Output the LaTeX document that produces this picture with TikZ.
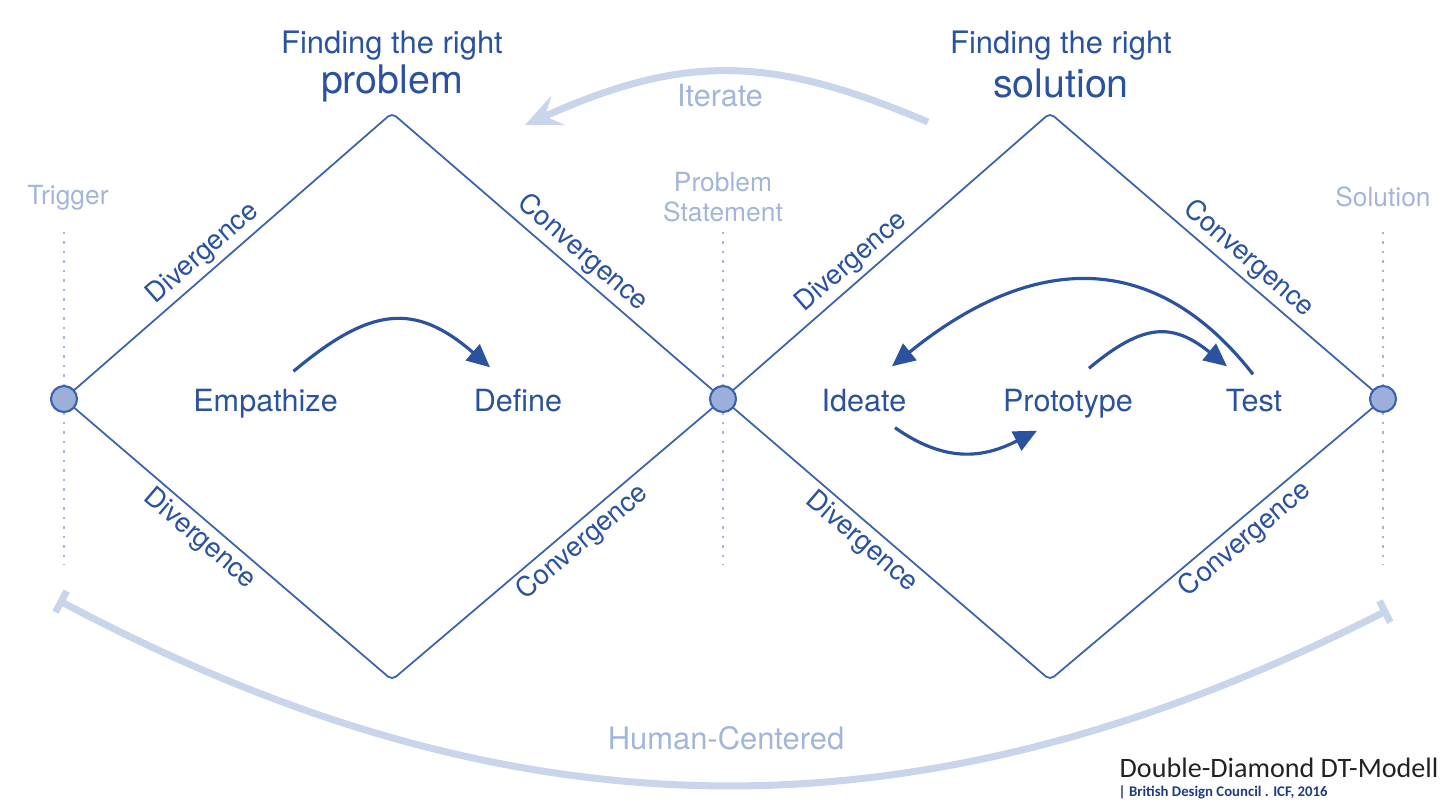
\documentclass[tikz,border=0pt]{standalone}
\usepackage{fontspec}
\setmainfont{TeX Gyre Heros}
\newfontfamily\notefont{Carlito}
\usetikzlibrary{positioning,arrows.meta}
\definecolor{dd900}{HTML}{2A529F}
\definecolor{dd700}{HTML}{3A62AD}
\definecolor{dd400}{HTML}{9CAFDA}
\definecolor{dd300}{HTML}{A3B5D9}
\definecolor{dd200}{HTML}{C9D5EA}
\definecolor{ink}{HTML}{222222}
\definecolor{navy}{HTML}{1F3C7C}
\tikzset{
  every node/.style={font=\fontsize{8.7}{10}\selectfont},
  stage/.style={
    text=dd900, inner sep=0pt,
    text height=2.2mm, text depth=0.6mm
  },
  headline/.style={text=dd900, inner sep=0pt},
  phaselabel/.style={
    text=dd900, sloped, inner sep=1.3pt,
    font=\fontsize{7.8}{9}\selectfont
  },
  hint/.style={
    text=dd300, align=center, inner sep=0pt,
    font=\fontsize{7.5}{8.6}\selectfont
  },
  rim/.style={draw=dd700, line width=0.5pt, rounded corners=1.5pt},
  guide/.style={draw=dd300, line width=0.7pt, dash pattern=on 0.7pt off 2pt},
  junction/.style={
    circle, draw=dd700, fill=dd400, line width=0.6pt,
    minimum size=2.6mm, inner sep=0pt
  },
  flow/.style={
    -{Triangle[length=2.3mm,width=2.1mm]},
    draw=dd900, line width=0.9pt
  },
  sweep/.style={draw=dd200, line width=2pt},
}

\begin{document}
\begin{tikzpicture}
  \useasboundingbox (0,0) rectangle (14.42,8.07);
  % corners of the two diamonds
  \coordinate (trigpt) at (0.64,4.08);
  \coordinate (stmtpt) at (7.23,4.08);
  \coordinate (solpt) at (13.83,4.08);
  \coordinate (ltop) at (3.92,6.94);
  \coordinate (lbot) at (3.92,1.27);
  \coordinate (rtop) at (10.50,6.94);
  \coordinate (rbot) at (10.50,1.27);

  % milestones and their guide lines
  \node[hint] (trigger) at (0.68,6.09) {Trigger};
  \node[hint] (statement) at (7.23,6.10) {Problem\\Statement};
  \node[hint] (solution) at (13.83,6.10) {Solution};
  \draw[guide] (trigpt |- 0,5.75) -- (trigpt |- 0,2.42);
  \draw[guide] (stmtpt |- 0,5.75) -- (stmtpt |- 0,2.42);
  \draw[guide] (solpt |- 0,5.75) -- (solpt |- 0,2.42);

  % diamonds
  \draw[rim] (trigpt) -- (ltop) -- (stmtpt) -- (lbot) -- cycle;
  \draw[rim] (stmtpt) -- (rtop) -- (solpt) -- (rbot) -- cycle;
  \path (trigpt) -- node[phaselabel, pos=0.46, above] {Divergence} (ltop);
  \path (ltop) -- node[phaselabel, pos=0.54, above] {Convergence} (stmtpt);
  \path (trigpt) -- node[phaselabel, pos=0.45, below] {Divergence} (lbot);
  \path (lbot) -- node[phaselabel, pos=0.54, below] {Convergence} (stmtpt);
  \path (stmtpt) -- node[phaselabel, pos=0.43, above] {Divergence} (rtop);
  \path (rtop) -- node[phaselabel, pos=0.56, above] {Convergence} (solpt);
  \path (stmtpt) -- node[phaselabel, pos=0.46, below] {Divergence} (rbot);
  \path (rbot) -- node[phaselabel, pos=0.55, below] {Convergence} (solpt);

  \node[junction] (trigdot) at (trigpt) {};
  \node[junction] (stmtdot) at (stmtpt) {};
  \node[junction] (soldot) at (solpt) {};

  % titles
  \node[headline, font=\fontsize{8.8}{10}\selectfont] (probhead) at (3.92,7.61) {Finding the right};
  \node[headline, font=\fontsize{11.2}{13}\selectfont] (problem) at (3.92,7.24) {problem};
  \node[headline, font=\fontsize{8.8}{10}\selectfont] (solhead) at (10.61,7.61) {Finding the right};
  \node[headline, font=\fontsize{11.2}{13}\selectfont] (solution) at (10.61,7.24) {solution};

  % stages
  \node[stage] (empathize) at (2.655,4.04) {Empathize};
  \node[stage] (define) at (5.18,4.04) {Define};
  \node[stage] (ideate) at (8.64,4.04) {Ideate};
  \node[stage] (prototype) at (10.68,4.04) {Prototype};
  \node[stage] (test) at (12.54,4.04) {Test};

  \draw[flow] ([shift={(2.8mm,1.7mm)}]empathize.north) to[out=40,in=139,looseness=1.3] ([shift={(-2.8mm,2.1mm)}]define.north);
  \draw[flow] ([shift={(3.1mm,-1.0mm)}]ideate.south) to[out=-35,in=-153,looseness=1.1] ([shift={(-3.1mm,-1.3mm)}]prototype.south);
  \draw[flow] ([shift={(2.1mm,2.0mm)}]prototype.north) to[out=40,in=141,looseness=1.3] ([shift={(-2.7mm,2.2mm)}]test.north);
  \draw[flow] ([shift={(-0.1mm,1.4mm)}]test.north) to[out=128,in=39,looseness=1.2] ([shift={(2.8mm,2.2mm)}]ideate.north);

  % iterate loop over the top
  \coordinate (iterfrom) at (9.28,6.85);
  \coordinate (iterto) at (5.25,6.82);
  \draw[sweep, -{Stealth[length=3.6mm,width=3.2mm,inset=1.4mm]}] (iterfrom) to[out=157,in=24,looseness=1.1] (iterto);
  \node[hint, font=\fontsize{8.7}{10}\selectfont] (iterate) at (7.20,7.11) {Iterate};

  % human-centered bracket along the bottom
  \coordinate (hcfrom) at (0.58,2.07);
  \coordinate (hcto) at (13.88,1.97);
  \draw[sweep, {Bar[width=2.4mm]}-{Bar[width=2.4mm]}] (hcfrom) to[out=-28,in=207,looseness=1] (hcto);
  \node[hint, font=\fontsize{8.8}{10}\selectfont] (humancentered) at (7.26,0.69) {Human-Centered};

  % source note
  \node[anchor=base west, inner sep=0pt, text=ink, font=\notefont\fontsize{8}{9}\selectfont] (modell) at (11.19,0.30) {Double-Diamond DT-Modell};
  \node[anchor=base west, inner sep=0pt, text=navy, font=\notefont\bfseries\fontsize{4.2}{5}\selectfont] (source) at (11.18,0.11) {| British Design Council . ICF, 2016};
\end{tikzpicture}
\end{document}
